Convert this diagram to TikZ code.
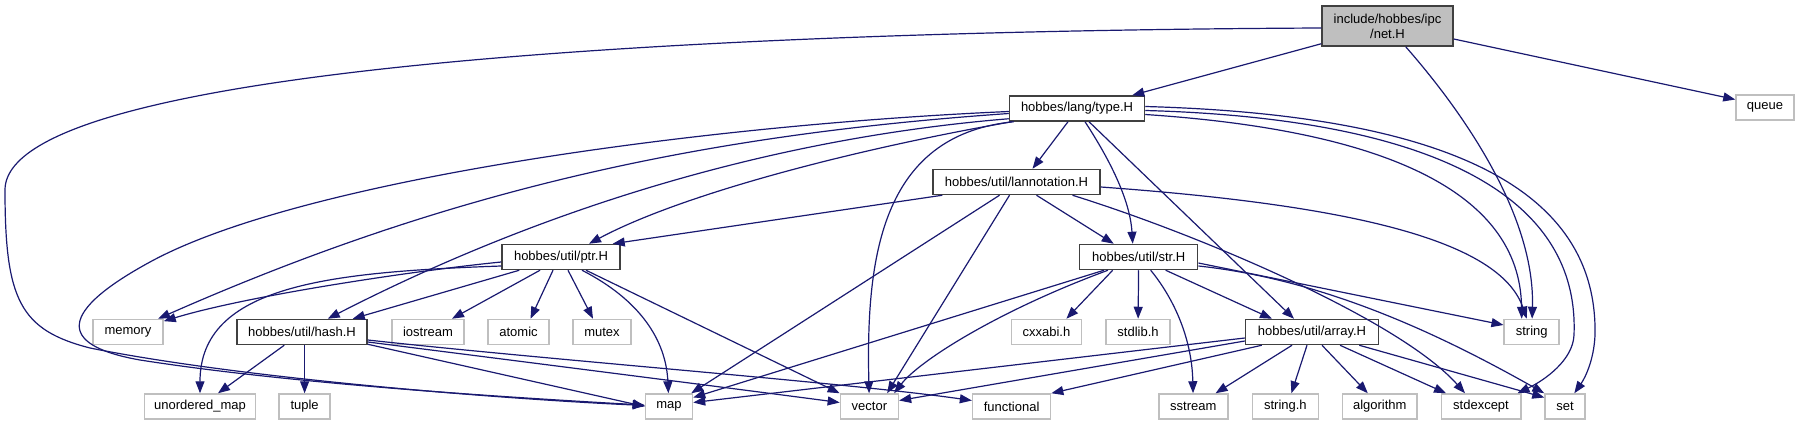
\documentclass[tikz,border=0pt]{standalone}
\usepackage{fontspec}
\setmainfont{Liberation Sans}
\usetikzlibrary{arrows.meta,calc}
\definecolor{edgeblue}{HTML}{191970}
\definecolor{grayline}{HTML}{BFBFBF}
\definecolor{rootfill}{HTML}{BFBFBF}
\definecolor{boxline}{HTML}{404040}
\begin{document}
\begin{tikzpicture}[x=1pt,y=-1pt,
  base/.style={rectangle, minimum height=25pt, inner xsep=2pt, inner ysep=0pt,
    font=\fontsize{13}{15}\selectfont, line width=1.5pt},
  rootbox/.style={base, fill=rootfill, draw=boxline, align=center, minimum height=40pt},
  locbox/.style={base, fill=white, draw=boxline},
  sysbox/.style={base, fill=white, draw=grayline},
  dep/.style={draw=edgeblue, line width=1.2pt, -{Triangle[length=12pt,width=9pt]}}
]
\useasboundingbox (0,0) rectangle (1799,425);

% nodes
\node[rootbox, minimum width=131pt] (netH) at (1387.5,26) {include/hobbes/ipc\\/net.H};
\node[sysbox, minimum width=58pt] (queue) at (1765,107.5) {queue};
\node[locbox, minimum width=135pt] (typeH) at (1077,108.5) {hobbes/lang/type.H};
\node[locbox, minimum width=167pt] (lann) at (1016.5,182) {hobbes/util/lannotation.H};
\node[locbox, minimum width=118pt] (ptrH) at (561,257) {hobbes/util/ptr.H};
\node[locbox, minimum width=118pt] (strH) at (1138.7,257) {hobbes/util/str.H};
\node[sysbox, minimum width=70pt] (memory) at (128,332) {memory};
\node[locbox, minimum width=130pt] (hashH) at (302,332) {hobbes/util/hash.H};
\node[sysbox, minimum width=72pt] (iostream) at (428,332) {iostream};
\node[sysbox, minimum width=61pt] (atomic) at (518.5,332) {atomic};
\node[sysbox, minimum width=58pt] (mutex) at (602,332) {mutex};
\node[sysbox, minimum width=70pt] (cxxabi) at (1046.4,332) {cxxabi.h};
\node[sysbox, minimum width=64pt] (stdlib) at (1138,332) {stdlib.h};
\node[locbox, minimum width=133pt] (arrayH) at (1312,332) {hobbes/util/array.H};
\node[sysbox, minimum width=55pt] (string) at (1531.7,332) {string};
\node[sysbox, minimum width=111pt] (umap) at (200,406.5) {unordered\_map};
\node[sysbox, minimum width=51pt] (tuple) at (304.6,406.5) {tuple};
\node[sysbox, minimum width=47pt] (map) at (669,406.5) {map};
\node[sysbox, minimum width=58pt] (vector) at (869.4,406.5) {vector};
\node[sysbox, minimum width=78pt] (functional) at (1011.6,406.5) {functional};
\node[sysbox, minimum width=69pt] (sstream) at (1193.3,406.5) {sstream};
\node[sysbox, minimum width=66pt] (stringh) at (1285.4,406.5) {string.h};
\node[sysbox, minimum width=74.5pt] (algorithm) at (1379.8,406.5) {algorithm};
\node[sysbox, minimum width=79.5pt] (stdexcept) at (1481,406.5) {stdexcept};
\node[sysbox, minimum width=40pt] (set) at (1565,406.5) {set};

% net.H
\draw[dep] ($(netH.south west)+(0,-3)$) -- ($(typeH.north east)+(-13,0)$);
\draw[dep] ($(netH.west)+(0,2)$) .. controls (900,30) and (5,50) .. (5,190)
  .. controls (5,300) and (20,330) .. (90,348) .. controls (250,380) and (520,400) .. (map);
\draw[dep] (netH) .. controls (1470,120) and (1535,220) .. (string);
\draw[dep] ($(netH.east)+(0,13)$) -- ($(queue.west)+(0,-8)$);

% type.H
\draw[dep] ($(typeH.south)+(-9,0)$) -- ($(lann.north)+(16,0)$);
\draw[dep] ($(typeH.south west)+(3,0)$) .. controls (850,150) and (680,195) .. ($(ptrH.north)+(28,0)$);
\draw[dep] ($(typeH.south west)+(0,-3)$) .. controls (750,140) and (520,220) .. (hashH);
\draw[dep] ($(typeH.south)+(8,0)$) .. controls (1110,160) and (1130,200) .. ($(strH.north)+(-6,0)$);
\draw[dep] ($(typeH.south)+(12,0)$) -- ($(arrayH.north)+(-18,0)$);
\draw[dep] ($(typeH.west)+(0,5)$) .. controls (700,135) and (450,190) .. (memory);
\draw[dep] ($(typeH.west)+(0,3)$) .. controls (700,125) and (300,180) .. (150,262)
  .. controls (60,311) and (55,345) .. (140,360) .. controls (300,385) and (520,398) .. (map);
\draw[dep] ($(typeH.south west)+(5,0)$) .. controls (880,135) and (866,260) .. (vector);
\draw[dep] ($(typeH.east)+(0,6)$) .. controls (1380,130) and (1520,190) .. ($(string.north)+(-10,0)$);
\draw[dep] ($(typeH.east)+(0,2)$) .. controls (1420,118) and (1580,190) .. (1574,335)
  .. controls (1573,360) and (1545,380) .. ($(stdexcept.north east)+(-4,0)$);
\draw[dep] ($(typeH.east)+(0,-2)$) .. controls (1450,115) and (1598,190) .. (1595,335)
  .. controls (1594,360) and (1585,378) .. (set);

% lannotation.H
\draw[dep] ($(lann.south west)+(10,0)$) -- ($(ptrH.north east)+(-8,0)$);
\draw[dep] ($(lann.south)+(20,0)$) -- ($(strH.north)+(-25,0)$);
\draw[dep] ($(lann.south)+(-17,0)$) -- ($(map.north east)+(-2,0)$);
\draw[dep] ($(lann.south)+(-7,0)$) -- ($(vector.north east)+(-12,0)$);
\draw[dep] ($(lann.east)+(0,5)$) .. controls (1350,205) and (1500,240) .. ($(string.north)+(-5,0)$);
\draw[dep] ($(lann.south)+(56,0)$) .. controls (1200,235) and (1400,320) .. ($(stdexcept.north)+(-16,0)$);

% ptr.H
\draw[dep] ($(ptrH.west)+(0,5)$) .. controls (420,270) and (250,295) .. (memory);
\draw[dep] ($(ptrH.west)+(0,9)$) .. controls (330,272) and (200,285) .. (umap);
\draw[dep] ($(ptrH.south west)+(18,0)$) -- ($(hashH.north east)+(-15,0)$);
\draw[dep] ($(ptrH.south)+(-21,0)$) -- ($(iostream.north)+(24,0)$);
\draw[dep] ($(ptrH.south)+(-8,0)$) -- ($(atomic.north)+(12,0)$);
\draw[dep] ($(ptrH.south)+(7,0)$) -- ($(mutex.north)+(-9,0)$);
\draw[dep] ($(ptrH.south)+(21,0)$) .. controls (640,300) and (666,340) .. (map);
\draw[dep] ($(ptrH.south)+(25,0)$) -- (vector.north west);

% hash.H
\draw[dep] ($(hashH.south west)+(48,0)$) -- ($(umap.north)+(18,0)$);
\draw[dep] ($(hashH.south)+(2.6,0)$) -- (tuple.north);
\draw[dep] ($(hashH.south east)+(0,-1)$) -- (map.west);
\draw[dep] ($(hashH.east)+(0,10)$) .. controls (550,365) and (760,392) .. ($(vector.west)+(0,-4)$);
\draw[dep] ($(hashH.east)+(0,8)$) .. controls (550,360) and (850,383) .. ($(functional.west)+(0,-6)$);

% str.H
\draw[dep] ($(strH.south west)+(25,0)$) -- ($(map.east)+(0,-9)$);
\draw[dep] ($(strH.south west)+(29,0)$) .. controls (1000,310) and (920,360) .. ($(vector.north east)+(-5,0)$);
\draw[dep] ($(strH.south)+(-26,0)$) -- ($(cxxabi.north)+(20,0)$);
\draw[dep] (strH) -- (stdlib);
\draw[dep] ($(strH.south)+(12,0)$) .. controls (1175,300) and (1192,340) .. (sstream);
\draw[dep] ($(strH.south)+(27,0)$) -- ($(arrayH.north)+(-40,0)$);
\draw[dep] ($(strH.east)+(0,6)$) -- ($(string.west)+(0,-7)$);
\draw[dep] ($(strH.east)+(0,9)$) .. controls (1330,280) and (1450,340) .. (set.north west);

% array.H
\draw[dep] ($(arrayH.west)+(0,6)$) -- ($(map.east)+(0,-4)$);
\draw[dep] ($(arrayH.west)+(0,9)$) -- ($(vector.east)+(0,-6)$);
\draw[dep] ($(arrayH.south west)+(17,0)$) -- ($(functional.north east)+(0,0)$);
\draw[dep] ($(arrayH.south)+(-20,0)$) -- ($(sstream.north east)+(-13,0)$);
\draw[dep] ($(arrayH.south)+(-5,0)$) -- ($(stringh.north)+(6,0)$);
\draw[dep] ($(arrayH.south)+(10,0)$) -- ($(algorithm.north)+(-12,0)$);
\draw[dep] ($(arrayH.south)+(28,0)$) -- ($(stdexcept.north)+(-35,0)$);
\draw[dep] ($(arrayH.south east)+(-20,0)$) -- ($(set.west)+(0,-9)$);
\end{tikzpicture}
\end{document}
